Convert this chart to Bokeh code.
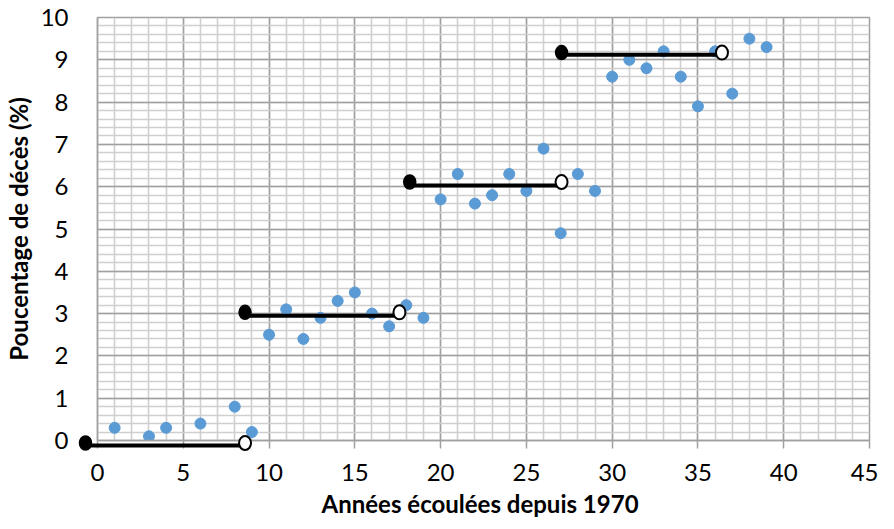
from bokeh.plotting import figure
from bokeh.models import SingleIntervalTicker, Range1d
from bokeh.core.properties import value
from bokeh.embed import file_html
from bokeh.resources import INLINE

# ---- data ----
years = [1, 3, 4, 6, 8, 9,
         10, 11, 12, 13, 14, 15, 16, 17, 18, 19,
         20, 21, 22, 23, 24, 25, 26, 27, 28, 29,
         30, 31, 32, 33, 34, 35, 36, 37, 38, 39]
pct = [0.3, 0.1, 0.3, 0.4, 0.8, 0.2,
       2.5, 3.1, 2.4, 2.9, 3.3, 3.5, 3.0, 2.7, 3.2, 2.9,
       5.7, 6.3, 5.6, 5.8, 6.3, 5.9, 6.9, 4.9, 6.3, 5.9,
       8.6, 9.0, 8.8, 9.2, 8.6, 7.9, 9.2, 8.2, 9.5, 9.3]

step_start = [-0.7, 8.6, 18.2, 27.05]
step_end = [8.6, 17.6, 27.05, 36.4]
step_line_level = [-0.12, 2.95, 6.03, 9.12]
step_dot_level = [-0.06, 3.03, 6.11, 9.17]

x_label = "Années écoulées depuis 1970"
y_label = "Poucentage de décès (%)"

FONT = "Lato"
GRID_MAJOR = "#a0a0a0"
GRID_MINOR = "#cfcfcf"

p = figure(width=878, height=521, output_backend="svg", toolbar_location=None,
           x_range=Range1d(0, 45), y_range=Range1d(0, 10),
           min_border_left=89, min_border_right=9, min_border_top=17, min_border_bottom=81)
p.background_fill_color = "white"
p.border_fill_color = "white"
p.outline_line_color = GRID_MAJOR
p.outline_line_width = 1.5

# axes
p.xaxis.ticker = SingleIntervalTicker(interval=5, num_minor_ticks=5)
p.yaxis.ticker = SingleIntervalTicker(interval=1, num_minor_ticks=5)
for ax in (p.xaxis[0], p.yaxis[0]):
    ax.axis_line_color = GRID_MAJOR
    ax.axis_line_width = 1.5
    ax.major_label_text_font = FONT
    ax.major_label_text_font_size = "24px"
    ax.major_label_text_color = "#000000"
    ax.minor_tick_line_color = None
    ax.axis_label_text_font = FONT
    ax.axis_label_text_font_style = "bold"
    ax.axis_label_text_font_size = "24px"
    ax.axis_label_text_color = "#000000"

p.xaxis.major_tick_line_color = GRID_MAJOR
p.xaxis.major_tick_line_width = 1.5
p.xaxis.major_tick_out = 8
p.xaxis.major_tick_in = 0
p.xaxis.major_label_standoff = 15

p.yaxis.major_tick_line_color = None
p.yaxis.major_tick_out = 0
p.yaxis.major_tick_in = 0
p.yaxis.major_label_standoff = 25
p.yaxis.axis_label = y_label
p.yaxis.axis_label_standoff = 5

# grids
for g in (p.xgrid[0], p.ygrid[0]):
    g.grid_line_color = GRID_MAJOR
    g.grid_line_width = 1.5
    g.minor_grid_line_color = GRID_MINOR
    g.minor_grid_line_width = 1.6

# scatter of observed values
p.scatter(years, pct, size=11, fill_color="#5b9bd5", line_color="#5b9bd5", marker="circle")

# step function segments (drawn unclipped above everything)
p.segment(x0=step_start, y0=step_line_level, x1=step_end, y1=step_line_level,
          line_color="black", line_width=4, level="overlay")
p.ellipse(x=step_start, y=step_dot_level, width=12, height=14,
          width_units="screen", height_units="screen",
          fill_color="black", line_color="black", line_width=1.5, level="overlay")
p.ellipse(x=step_end, y=step_dot_level, width=12, height=14,
          width_units="screen", height_units="screen",
          fill_color="white", line_color="black", line_width=2, level="overlay")

# x-axis title, placed low near the bottom edge as in the reference
p.text(x=[22.3], y=[-1.5], text=[x_label], text_align="center",
       text_baseline="alphabetic", text_font=value(FONT), text_font_style="bold",
       text_font_size="24px", text_color="#000000", level="overlay")

open("out.html", "w").write(file_html(p, INLINE))
